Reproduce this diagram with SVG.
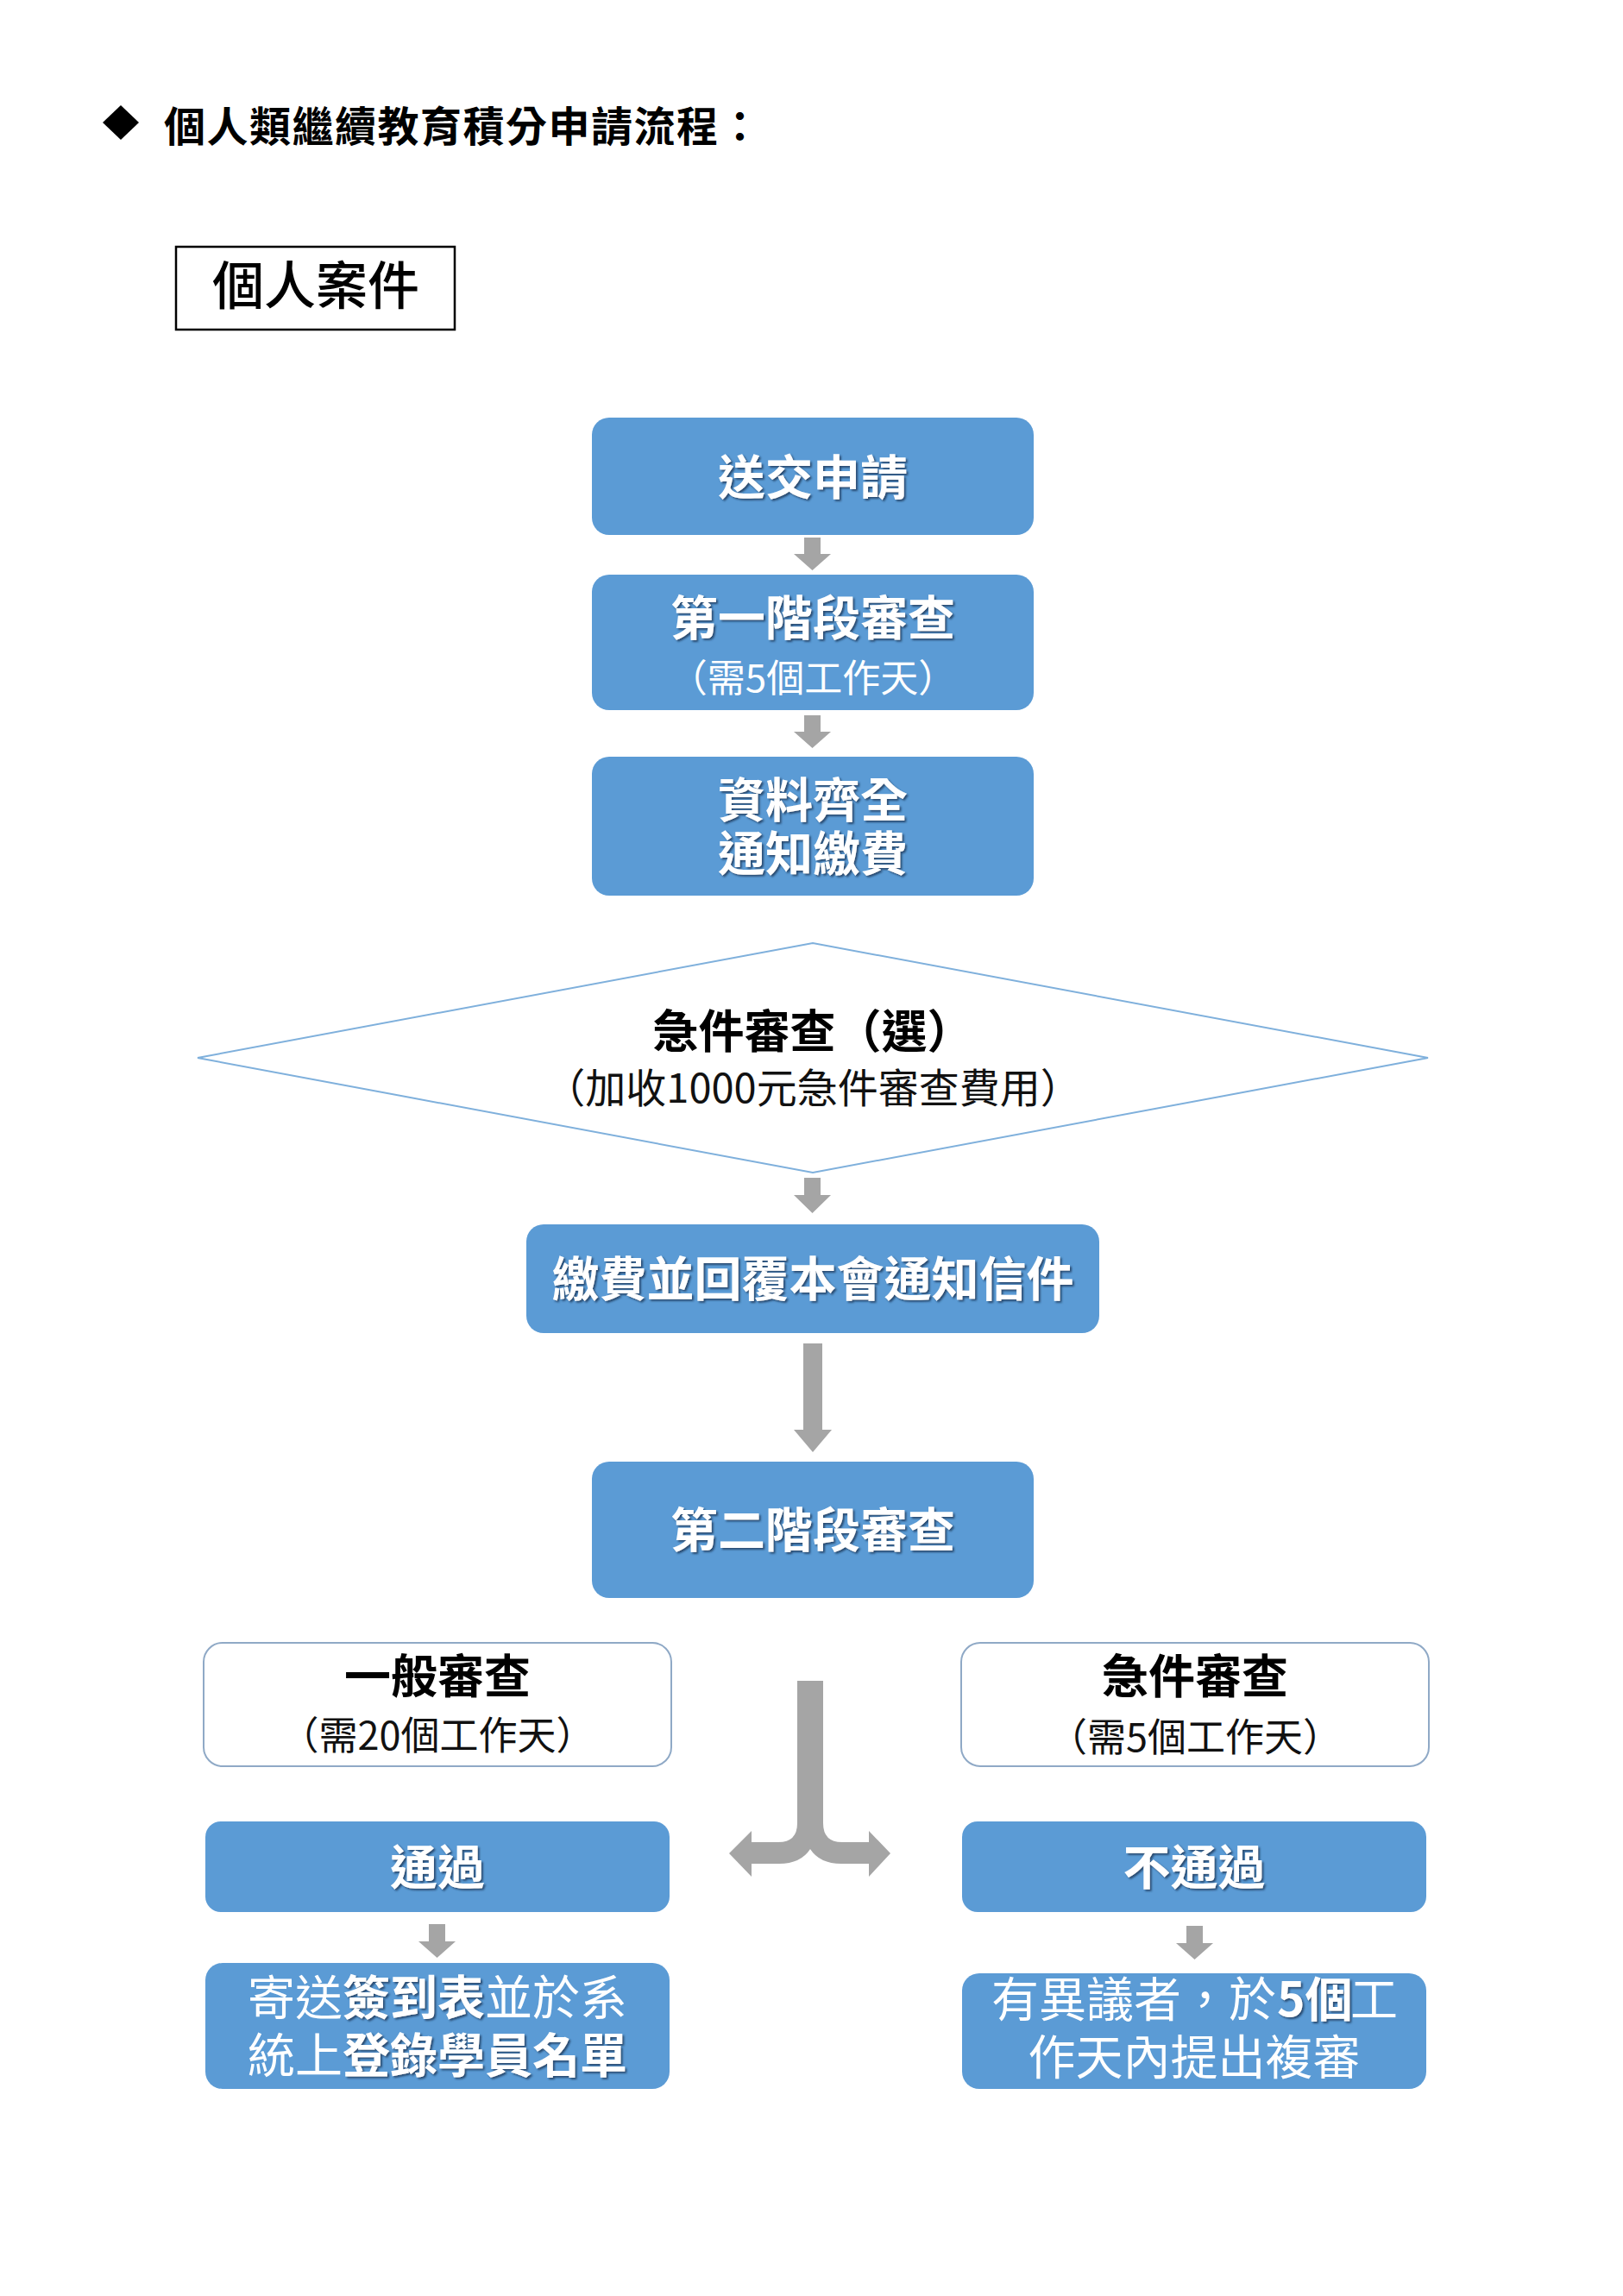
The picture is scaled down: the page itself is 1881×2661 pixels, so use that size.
<svg xmlns="http://www.w3.org/2000/svg" width="1881" height="2661" viewBox="0 0 1881 2661">
<defs>
<style>
.cjk{font-family:"Noto Sans CJK TC","Noto Sans CJK SC",sans-serif;}
.blue{fill:#5B9BD5;}
.wbox{fill:#ffffff;stroke:#8fa9c6;stroke-width:2;}
.wt{fill:#ffffff;font-weight:700;font-size:55px;text-anchor:middle;}
.wr{fill:#ffffff;font-weight:400;}
.wb{fill:#ffffff;font-weight:700;font-size:55px;}
.bt{fill:#000000;font-weight:700;text-anchor:middle;}
.br{fill:#111111;font-weight:400;text-anchor:middle;}
.arrow{fill:#A5A5A5;}
</style>
<filter id="sh" x="-10%" y="-30%" width="120%" height="160%">
<feDropShadow dx="2" dy="2" stdDeviation="0.8" flood-color="#1c3d5e" flood-opacity="0.85"/>
</filter>
</defs>
<rect x="0" y="0" width="1881" height="2661" fill="#ffffff"/>

<g id="title">
<polygon points="140,122 161,142 140,162 119,142" fill="#000000"/>
<text class="cjk" x="190" y="164" font-size="48" font-weight="700" letter-spacing="1.5" fill="#000000">個人類繼續教育積分申請流程：</text>
</g>

<g id="case-label">
<rect x="204" y="286" width="323" height="96" fill="#ffffff" stroke="#000000" stroke-width="2.5"/>
<text class="cjk" x="366" y="353" font-size="60" font-weight="500" text-anchor="middle" fill="#000000">個人案件</text>
</g>

<g id="connectors">
<path class="arrow" d="M932 623 H951 V642 H963 L941.5 661 L920 642 H932 Z"/>
<path class="arrow" d="M932 829 H951 V848 H963 L941.5 867 L920 848 H932 Z"/>
<path class="arrow" d="M932 1365 H951 V1385 H963 L941.5 1406 L920 1385 H932 Z"/>
<path class="arrow" d="M931 1557 H953 V1657 H964 L942 1683 L920 1657 H931 Z"/>
<path class="arrow" d="M924 1948 L954 1948 L954 2113 Q954 2135 976 2135 L1007 2135 L1007 2122 L1032 2148 L1007 2175 L1007 2160 L975 2160 Q950 2160 939 2143 Q928 2160 903 2160 L871 2160 L871 2175 L845 2148 L871 2122 L871 2135 L902 2135 Q924 2135 924 2113 Z"/>
<path class="arrow" d="M497 2230 H516 V2250 H528 L506.5 2269 L485 2250 H497 Z"/>
<path class="arrow" d="M1375 2232 H1394 V2252 H1406 L1384.5 2271 L1363 2252 H1375 Z"/>
</g>

<g id="submit">
<rect class="blue" x="686" y="484" width="512" height="136" rx="20"/>
<text class="cjk wt" x="942" y="573" filter="url(#sh)">送交申請</text>
</g>

<g id="stage1">
<rect class="blue" x="686" y="666" width="512" height="157" rx="20"/>
<text class="cjk wt" x="942" y="736" filter="url(#sh)">第一階段審查</text>
<text class="cjk wr" x="942" y="802" font-size="44" text-anchor="middle">（需5個工作天）</text>
</g>

<g id="notify-pay">
<rect class="blue" x="686" y="877" width="512" height="161" rx="20"/>
<text class="cjk wt" x="942" y="947" filter="url(#sh)">資料齊全</text>
<text class="cjk wt" x="942" y="1009" filter="url(#sh)">通知繳費</text>
</g>

<g id="urgent-option">
<polygon points="229,1226 942,1093 1655,1226 942,1359" fill="#ffffff" stroke="#7fb0dc" stroke-width="2"/>
<text class="cjk bt" x="942" y="1215" font-size="53">急件審查（選）</text>
<text class="cjk br" x="942" y="1278" font-size="47">（加收1000元急件審查費用）</text>
</g>

<g id="pay-reply">
<rect class="blue" x="610" y="1419" width="664" height="126" rx="20"/>
<text class="cjk wt" x="942" y="1502" filter="url(#sh)">繳費並回覆本會通知信件</text>
</g>

<g id="stage2">
<rect class="blue" x="686" y="1694" width="512" height="158" rx="20"/>
<text class="cjk wt" x="942" y="1793" filter="url(#sh)">第二階段審查</text>
</g>

<g id="general-review">
<rect class="wbox" x="236" y="1904" width="542" height="143" rx="22"/>
<text class="cjk bt" x="507" y="1963" font-size="54">一般審查</text>
<text class="cjk br" x="507" y="2028" font-size="45">（需20個工作天）</text>
</g>

<g id="urgent-review">
<rect class="wbox" x="1114" y="1904" width="542" height="143" rx="22"/>
<text class="cjk bt" x="1385" y="1963" font-size="54">急件審查</text>
<text class="cjk br" x="1385" y="2030" font-size="45">（需5個工作天）</text>
</g>

<g id="pass">
<rect class="blue" x="238" y="2111" width="538" height="105" rx="18"/>
<text class="cjk wt" x="507" y="2184" filter="url(#sh)">通過</text>
</g>

<g id="fail">
<rect class="blue" x="1115" y="2111" width="538" height="105" rx="18"/>
<text class="cjk wt" x="1384" y="2184" filter="url(#sh)">不通過</text>
</g>

<g id="pass-next">
<rect class="blue" x="238" y="2275" width="538" height="146" rx="20"/>
<text class="cjk wr" x="287" y="2335" font-size="55">寄送</text>
<text class="cjk wb" x="397" y="2335" filter="url(#sh)">簽到表</text>
<text class="cjk wr" x="562" y="2335" font-size="55">並於系</text>
<text class="cjk wr" x="287" y="2402" font-size="55">統上</text>
<text class="cjk wb" x="397" y="2402" filter="url(#sh)">登錄學員名單</text>
</g>

<g id="fail-next">
<rect class="blue" x="1115" y="2287" width="538" height="134" rx="20"/>
<text class="cjk wr" x="1149" y="2337" font-size="55">有異議者，於</text>
<text class="cjk wb" x="1480" y="2337" filter="url(#sh)">5個</text>
<text class="cjk wr" x="1620" y="2337" font-size="55" text-anchor="end">工</text>
<text class="cjk wr" x="1384" y="2404" font-size="55" text-anchor="middle">作天內提出複審</text>
</g>
</svg>
